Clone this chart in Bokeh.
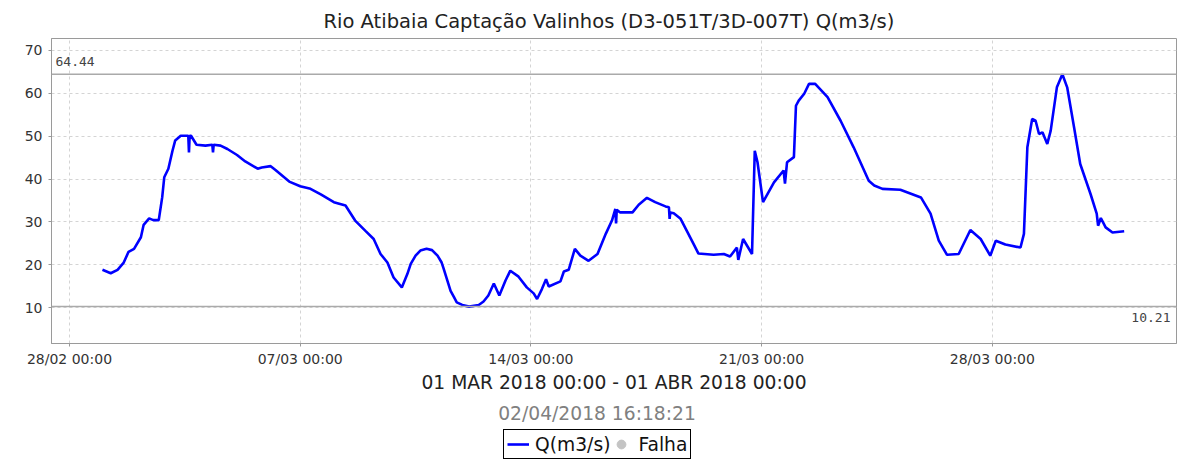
import pandas as pd
from bokeh.plotting import figure
from bokeh.layouts import column
from bokeh.models import (Range1d, FixedTicker, DatetimeTickFormatter, Span, Label,
                          Legend, LegendItem)
from bokeh.embed import file_html
from bokeh.resources import INLINE

# ---- data ----
times = [
    "2018-03-01 00:00", "2018-03-01 06:00", "2018-03-01 11:00", "2018-03-01 15:30", "2018-03-01 19:00",
    "2018-03-01 23:00", "2018-03-02 04:00", "2018-03-02 06:00", "2018-03-02 10:00", "2018-03-02 13:00",
    "2018-03-02 17:00", "2018-03-02 19:30", "2018-03-02 21:00", "2018-03-03 00:00", "2018-03-03 03:00",
    "2018-03-03 05:00", "2018-03-03 09:00", "2018-03-03 14:30", "2018-03-03 15:00", "2018-03-03 15:30",
    "2018-03-03 16:30", "2018-03-03 20:30", "2018-03-04 03:00", "2018-03-04 08:00", "2018-03-04 08:30",
    "2018-03-04 09:00", "2018-03-04 14:00", "2018-03-04 19:00", "2018-03-05 02:00", "2018-03-05 08:00",
    "2018-03-05 17:00", "2018-03-05 20:00", "2018-03-06 02:30", "2018-03-06 06:00", "2018-03-06 16:00",
    "2018-03-07 00:00", "2018-03-07 07:30", "2018-03-07 15:00", "2018-03-08 00:30", "2018-03-08 09:00",
    "2018-03-08 16:00", "2018-03-08 23:30", "2018-03-09 05:30", "2018-03-09 10:30", "2018-03-09 15:30",
    "2018-03-09 20:00", "2018-03-10 02:00", "2018-03-10 06:00", "2018-03-10 08:30", "2018-03-10 12:00",
    "2018-03-10 15:30", "2018-03-10 20:00", "2018-03-11 00:00", "2018-03-11 04:00", "2018-03-11 07:00",
    "2018-03-11 08:30", "2018-03-11 13:30", "2018-03-11 16:00", "2018-03-11 18:00", "2018-03-11 22:00",
    "2018-03-12 03:00", "2018-03-12 10:00", "2018-03-12 13:30", "2018-03-12 17:00", "2018-03-12 21:00",
    "2018-03-13 01:00", "2018-03-13 05:30", "2018-03-13 09:00", "2018-03-13 15:00", "2018-03-13 21:00",
    "2018-03-14 02:00", "2018-03-14 04:30", "2018-03-14 08:00", "2018-03-14 11:00", "2018-03-14 13:00",
    "2018-03-14 21:30", "2018-03-15 00:00", "2018-03-15 03:30", "2018-03-15 08:00", "2018-03-15 12:00",
    "2018-03-15 18:00", "2018-03-16 00:30", "2018-03-16 06:30", "2018-03-16 11:00", "2018-03-16 13:30",
    "2018-03-16 14:00", "2018-03-16 14:30", "2018-03-16 17:00", "2018-03-17 02:00", "2018-03-17 06:30",
    "2018-03-17 12:30", "2018-03-17 18:30", "2018-03-18 02:00", "2018-03-18 04:30", "2018-03-18 05:00",
    "2018-03-18 05:30", "2018-03-18 08:00", "2018-03-18 13:00", "2018-03-18 18:00", "2018-03-18 22:30",
    "2018-03-19 02:00", "2018-03-19 13:00", "2018-03-19 20:30", "2018-03-20 01:00", "2018-03-20 06:00",
    "2018-03-20 07:00", "2018-03-20 10:30", "2018-03-20 17:00", "2018-03-20 19:00", "2018-03-20 21:00",
    "2018-03-21 01:00", "2018-03-21 09:00", "2018-03-21 16:00", "2018-03-21 17:00", "2018-03-21 18:30",
    "2018-03-21 23:30", "2018-03-22 01:00", "2018-03-22 03:00", "2018-03-22 07:00", "2018-03-22 10:30",
    "2018-03-22 15:00", "2018-03-23 00:00", "2018-03-23 09:30", "2018-03-23 19:00", "2018-03-24 06:00",
    "2018-03-24 10:00", "2018-03-24 16:00", "2018-03-25 05:00", "2018-03-25 20:00", "2018-03-26 03:00",
    "2018-03-26 09:00", "2018-03-26 15:00", "2018-03-26 23:30", "2018-03-27 08:00", "2018-03-27 15:30",
    "2018-03-27 22:30", "2018-03-28 02:30", "2018-03-28 09:30", "2018-03-28 20:30", "2018-03-28 23:00",
    "2018-03-29 01:30", "2018-03-29 05:00", "2018-03-29 07:30", "2018-03-29 10:00", "2018-03-29 12:30",
    "2018-03-29 16:00", "2018-03-29 18:30", "2018-03-29 23:00", "2018-03-30 03:00", "2018-03-30 06:30",
    "2018-03-30 11:30", "2018-03-30 16:00", "2018-03-30 23:30", "2018-03-31 04:00", "2018-03-31 05:00",
    "2018-03-31 07:00", "2018-03-31 10:30", "2018-03-31 15:30", "2018-04-01 00:00",
]
flow = [
    18.8, 18.0, 18.8, 20.5, 23.0,
    23.7, 26.4, 29.3, 30.8, 30.4,
    30.4, 35.7, 40.4, 42.4, 46.6,
    49.0, 50.1, 50.1, 46.2, 50.1,
    50.1, 48.0, 47.8, 48.0, 46.2,
    48.0, 47.8, 47.0, 45.6, 44.1,
    42.4, 42.7, 43.0, 42.1, 39.4,
    38.3, 37.7, 36.4, 34.6, 33.8,
    30.3, 27.9, 26.0, 22.5, 20.5,
    17.0, 14.7, 17.8, 20.2, 22.1,
    23.3, 23.7, 23.4, 22.1, 20.5,
    19.0, 13.9, 12.4, 11.2, 10.6,
    10.21, 10.6, 11.4, 12.8, 15.6,
    12.8, 16.3, 18.6, 17.2, 14.7,
    13.3, 12.0, 14.3, 16.6, 14.9,
    16.1, 18.4, 18.8, 23.7, 22.1,
    20.9, 22.5, 27.2, 30.3, 33.0,
    29.6, 32.8, 32.2, 32.2, 34.0,
    35.6, 34.6, 33.6, 33.4, 30.7,
    32.2, 32.0, 30.7, 27.6, 24.8,
    22.6, 22.3, 22.5, 21.9, 24.0,
    21.1, 26.0, 22.5, 46.6, 43.9,
    34.6, 39.2, 42.0, 38.9, 43.9,
    45.1, 57.1, 58.3, 59.9, 62.2,
    62.2, 59.1, 53.6, 47.4, 39.6,
    38.5, 37.7, 37.5, 35.7, 31.9,
    25.6, 22.3, 22.5, 28.1, 26.0,
    22.1, 25.6, 24.7, 24.0, 27.2,
    47.4, 54.0, 53.6, 50.5, 50.9,
    48.2, 51.3, 61.4, 64.44, 61.4,
    52.1, 43.5, 36.5, 31.9, 29.1,
    30.9, 28.7, 27.5, 27.8,
]
# "Falha" (failure) series: no failures in the period
fail_times = ["2018-03-01 00:00"]
fail_values = [float("nan")]

x_tick_dates = ["2018-02-28", "2018-03-07", "2018-03-14", "2018-03-21", "2018-03-28"]
y_ticks = [10, 20, 30, 40, 50, 60, 70]
max_value = 64.44
min_value = 10.21
title_text = "Rio Atibaia Captação Valinhos (D3-051T/3D-007T) Q(m3/s)"
period_text = "01 MAR 2018 00:00 - 01 ABR 2018 00:00"
stamp_text = "02/04/2018 16:18:21"
series_name = "Q(m3/s)"
fail_name = "Falha"

FONT = "DejaVu Sans"
BLUE = "#0000ff"
GREY_DOT = "#c4c4c4"
W = 1178
LEFT, RIGHT = 51, 2

t = pd.to_datetime(times)
x_start = pd.Timestamp("2018-02-27 10:54")
x_end = pd.Timestamp("2018-04-02 14:06")

# ---------------- main chart ----------------
p = figure(width=W, height=398, x_axis_type="datetime",
           x_range=Range1d(x_start, x_end), y_range=Range1d(1.6, 72.8),
           output_backend="svg", toolbar_location=None, title=title_text)
p.min_border_left = LEFT
p.min_border_right = RIGHT
p.min_border_top = 38
p.min_border_bottom = 55
p.background_fill_color = "white"
p.border_fill_color = "white"
p.outline_line_color = "#9a9a9a"
p.outline_line_width = 1

p.title.align = "left"
p.title.offset = 272
p.title.text_font = FONT
p.title.text_font_size = "19.5px"
p.title.text_font_style = "normal"
p.title.text_color = "#222222"
p.title.standoff = 11

for g in (p.xgrid, p.ygrid):
    g.grid_line_color = "#d4d4d4"
    g.grid_line_dash = "3 3"
    g.grid_line_width = 1

xt = [pd.Timestamp(d).value // 10**6 for d in x_tick_dates]
p.xaxis.ticker = FixedTicker(ticks=xt)
fmt = "%d/%m %H:%M"
p.xaxis.formatter = DatetimeTickFormatter(
    microseconds=fmt, milliseconds=fmt, seconds=fmt, minsec=fmt, minutes=fmt,
    hourmin=fmt, hours=fmt, days=fmt, months=fmt, years=fmt)
p.yaxis.ticker = FixedTicker(ticks=y_ticks)
for ax in (p.xaxis[0], p.yaxis[0]):
    ax.axis_line_color = "#9a9a9a"
    ax.major_tick_line_color = "#9a9a9a"
    ax.major_tick_out = 3
    ax.major_tick_in = 0
    ax.minor_tick_line_color = None
    ax.major_label_text_font = FONT
    ax.major_label_text_font_size = "14px"
    ax.major_label_text_color = "#333333"
p.yaxis.major_label_standoff = 6
p.xaxis.major_label_standoff = 4
p.xaxis.axis_label = period_text
p.xaxis.axis_label_text_font = FONT
p.xaxis.axis_label_text_font_size = "18.7px"
p.xaxis.axis_label_text_font_style = "normal"
p.xaxis.axis_label_text_color = "#222222"
p.xaxis.axis_label_standoff = 2

for val in (max_value, min_value):
    p.add_layout(Span(location=val, dimension="width", line_color="#aaaaaa", line_width=1.5))
p.add_layout(Label(x=x_start, y=max_value, text=f"{max_value:.2f}", x_offset=4, y_offset=13,
                   text_font="DejaVu Sans Mono", text_font_size="13px", text_color="#444444",
                   text_baseline="alphabetic", text_align="left"))
p.add_layout(Label(x=x_end, y=min_value, text=f"{min_value:.2f}", x_offset=-6, y_offset=-11,
                   text_font="DejaVu Sans Mono", text_font_size="13px", text_color="#444444",
                   text_baseline="alphabetic", text_align="right"))

p.line(t, flow, line_color=BLUE, line_width=2.6)
p.scatter(pd.to_datetime(fail_times), fail_values, marker="circle", size=10,
          fill_color=GREY_DOT, line_color=GREY_DOT)

# ---------------- footer: timestamp + legend ----------------
H2 = 63
f = figure(width=W, height=H2, x_range=Range1d(LEFT, W - RIGHT), y_range=Range1d(0, H2),
           output_backend="svg", toolbar_location=None,
           x_axis_location=None, y_axis_location=None)
f.min_border_left = LEFT
f.min_border_right = RIGHT
f.min_border_top = 0
f.min_border_bottom = 0
f.outline_line_color = None
f.xgrid.visible = False
f.ygrid.visible = False
f.add_layout(Label(x=596.5, y=H2 - 15, text=stamp_text, text_align="center",
                   text_baseline="middle", text_font=FONT, text_font_size="18.7px",
                   text_color="#808080"))
r_line = f.line(pd.Series(fail_values * 2), pd.Series(fail_values * 2),
                line_color=BLUE, line_width=2.6)
r_fail = f.scatter(pd.Series(fail_values), pd.Series(fail_values), marker="circle", size=10,
                   fill_color=GREY_DOT, line_color=GREY_DOT)
legend = Legend(items=[LegendItem(label=series_name, renderers=[r_line]),
                       LegendItem(label=fail_name, renderers=[r_fail])],
                orientation="horizontal", location=(503 - LEFT, 2),
                label_text_font=FONT, label_text_font_size="18.7px", label_text_color="#111111",
                border_line_color="black", border_line_width=1, border_line_alpha=1,
                padding=3, spacing=0, margin=0, glyph_width=22, glyph_height=22,
                label_standoff=6, background_fill_color="white", background_fill_alpha=1)
f.add_layout(legend)

layout = column(p, f, spacing=0)
open("out.html", "w").write(file_html(layout, INLINE))
